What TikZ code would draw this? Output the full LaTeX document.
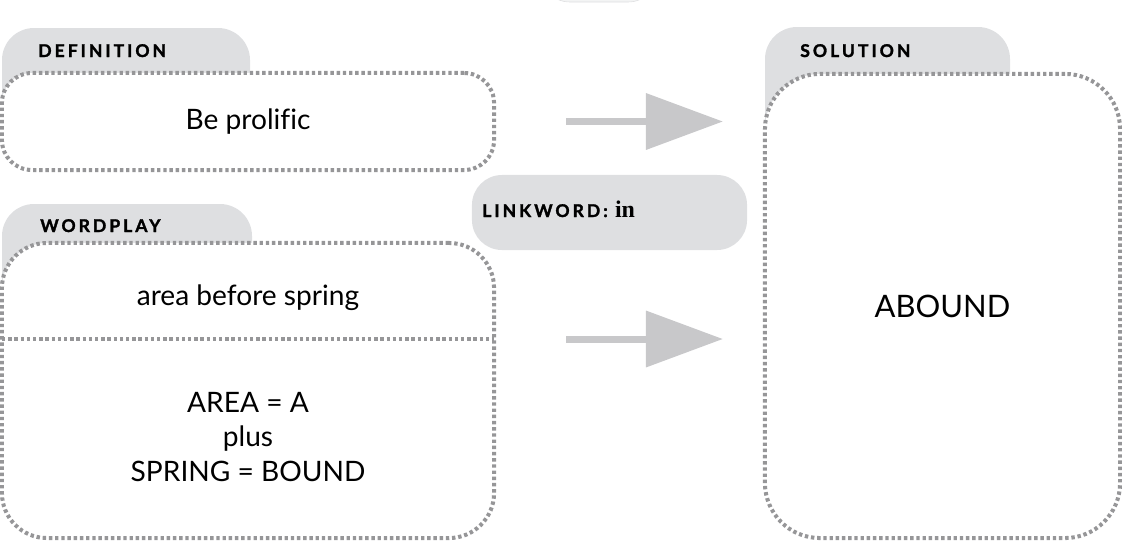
\documentclass[tikz,border=0pt]{standalone}
\usepackage{fontspec}
\setmainfont[Ligatures=NoCommon]{Lato}
\newfontfamily\tagfont[LetterSpace=17, BoldFeatures={FakeBold=1.6}]{Lato}
\newfontfamily\linkfont{Liberation Serif}
\usetikzlibrary{arrows.meta}
\definecolor{tabgray}{RGB}{222,223,225}
\definecolor{dotgray}{RGB}{150,150,152}
\definecolor{arrowgray}{RGB}{200,200,202}

\begin{document}
\begin{tikzpicture}[
    x=0.025cm, y=-0.025cm,
    box/.style={rectangle, draw=dotgray, fill=white, line width=0.1cm, dash pattern=on 0.085cm off 0.07cm, align=center, font=\fontsize{20}{24}\selectfont},
    dotline/.style={draw=dotgray, line width=0.1cm, dash pattern=on 0.085cm off 0.07cm},
    tabfill/.style={fill=tabgray},
    tag/.style={anchor=base west, inner sep=0pt, font=\tagfont\bfseries\fontsize{12.5}{14}\selectfont},
    txt/.style={align=center, font=\fontsize{20}{24.5}\selectfont},
    pill/.style={rectangle, fill=tabgray, rounded corners=0.75cm},
    pointer/.style={-{Triangle[length=1.925cm, width=1.375cm]}, line width=0.175cm, draw=arrowgray}
]
\useasboundingbox (0,0) rectangle (1122,541);

% tabs behind the boxes
\fill[tabfill, rounded corners=0.8cm] (2,28) rectangle (250,120);
\fill[tabfill] (2,70) rectangle (250,120);
\fill[tabfill, rounded corners=0.8cm] (2,204) rectangle (252,310);
\fill[tabfill] (2,240) rectangle (252,310);
\fill[tabfill, rounded corners=0.8cm] (765,27) rectangle (1010,160);
\fill[tabfill] (765,70) rectangle (1010,160);

\node[pill, minimum width=2.95cm, minimum height=1.6cm, fill=tabgray!35, draw=tabgray] (stub) at (599,-30) {};

\node[box, minimum width=12.3cm, minimum height=2.425cm, rounded corners=0.75cm] (defn) at (248,121.5) {Be prolific};
\node[box, minimum width=12.3cm, minimum height=7.375cm, rounded corners=1.125cm] (wordplay) at (248,390.5) {};
\node[box, minimum width=8.875cm, minimum height=11.6cm, rounded corners=1.375cm, font=\fontsize{22}{26}\selectfont] (soln) at (942.5,306) {ABOUND};
\node[pill, minimum width=6.875cm, minimum height=1.875cm] (link) at (609.5,212.5) {};

\node[tag] (deftag) at (38,57) {DEFINITION};
\node[tag] (wordtag) at (40,232) {WORDPLAY};
\node[tag] (soltag) at (800,57) {SOLUTION};
\node[tag] (linktag) at (482,217) {LINKWORD: {\linkfont\fontsize{17}{19}\selectfont in}};

\node[txt] (clue) at (248,298) {area before spring};
\node[txt] (parse) at (248,437) {AREA = A\\plus\\SPRING = BOUND};

\coordinate (cutL) at (2,339);
\coordinate (cutR) at (494,339);
\draw[dotline] (cutL) -- (cutR);

\draw[pointer, shorten <=1.75cm, shorten >=1.0cm] (defn.east) -- (defn.east -| soln.west);
\draw[pointer, shorten <=1.8cm, shorten >=1.0cm] (cutR) -- (cutR -| soln.west);
\end{tikzpicture}
\end{document}
